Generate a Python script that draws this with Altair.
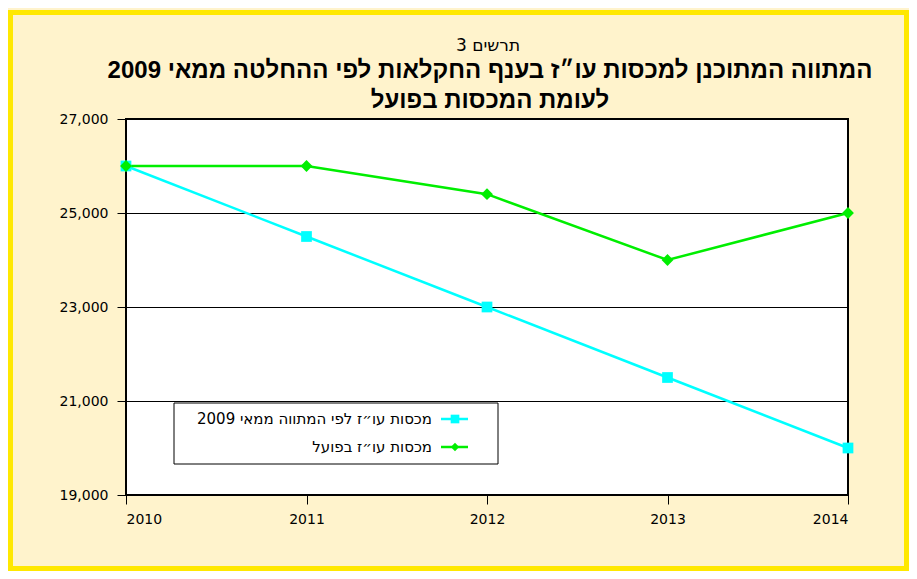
import altair as alt
import pandas as pd

# ---- data ----
years = [2010, 2011, 2012, 2013, 2014]
planned = [26000, 24500, 23000, 21500, 20000]
actual = [26000, 26000, 25400, 24000, 25000]
series_names = ["מכסות עו״ז לפי המתווה ממאי 2009", "מכסות עו״ז בפועל"]
y_ticks = [19000, 21000, 23000, 25000, 27000]
chart_label = "תרשים 3"
title_lines = [
    "המתווה המתוכנן למכסות עו״ז בענף החקלאות לפי ההחלטה ממאי 2009",
    "לעומת המכסות בפועל",
]

RLE, PDF = "\u202b", "\u202c"


def rtl(s):
    return RLE + s + PDF


df = pd.DataFrame({
    "year": years + years,
    "value": planned + actual,
    "series": [series_names[0]] * len(years) + [series_names[1]] * len(years),
})

W, H = 722, 376
CYAN = "#00FFFF"
GREEN = "#00EE00"
CREAM = "#FFF3CC"
YELLOW = "#FFE800"
AXFONT = "DejaVu Sans"
TFONT = "Liberation Sans"

x = alt.X(
    "year:Q",
    scale=alt.Scale(domain=[2010, 2014], nice=False, zero=False),
    axis=alt.Axis(values=years, format="d", title=None, grid=False, tickSize=9,
                  tickColor="black", domain=False, labelPadding=8,
                  labelFont=AXFONT, labelFontSize=14, labelColor="black"),
)
y = alt.Y(
    "value:Q",
    scale=alt.Scale(domain=[19000, 27000], nice=False, zero=False),
    axis=alt.Axis(values=y_ticks, format=",d", title=None, grid=True,
                  gridColor="black", gridWidth=1, gridOpacity=1,
                  tickSize=9, tickColor="black", domain=False, labelPadding=9,
                  labelFont=AXFONT, labelFontSize=14, labelColor="black"),
)
color = alt.Color("series:N", scale=alt.Scale(domain=series_names, range=[CYAN, GREEN]), legend=None)
shape = alt.Shape("series:N", scale=alt.Scale(domain=series_names, range=["square", "diamond"]), legend=None)

one = alt.Data(values=[{"k": 0}])

frame = alt.Chart(one).mark_rect(filled=False, stroke=YELLOW, strokeWidth=5).encode(
    x=alt.value(-115.5), x2=alt.value(780.5), y=alt.value(-106.5), y2=alt.value(449.5)
)

lines = alt.Chart(df).mark_line(strokeWidth=2.5).encode(x=x, y=y, color=color)
points = alt.Chart(df).mark_point(filled=True, opacity=1).encode(
    x=x, y=y, color=color, shape=shape,
    size=alt.Size("series:N", scale=alt.Scale(domain=series_names, range=[115, 140]), legend=None),
)

# ---- titles (drawn as text so that they stay inside the fixed layout) ----
titles = [
    alt.Chart(alt.Data(values=[{"t": rtl(chart_label)}])).mark_text(
        align="center", baseline="middle", font=AXFONT, fontSize=17, color="black"
    ).encode(x=alt.value(362), y=alt.value(-73), text="t:N"),
]
for i, line in enumerate(title_lines):
    titles.append(
        alt.Chart(alt.Data(values=[{"t": rtl(line)}])).mark_text(
            align="center", baseline="middle", font=TFONT, fontSize=24,
            fontWeight="bold", color="black"
        ).encode(x=alt.value(364), y=alt.value(-48 + i * 30), text="t:N")
    )

# ---- manual right-to-left legend ----
leg_box = alt.Chart(one).mark_rect(fill="white", stroke="black", strokeWidth=1).encode(
    x=alt.value(48), x2=alt.value(372), y=alt.value(284), y2=alt.value(345)
)
leg_layers = [leg_box]
leg_colors = [CYAN, GREEN]
leg_shapes = ["square", "diamond"]
leg_sizes = [75, 70]
for i, name in enumerate(series_names):
    yy = 300 + i * 28
    d = alt.Data(values=[{"name": rtl(name)}])
    leg_layers.append(
        alt.Chart(d).mark_rule(color=leg_colors[i], strokeWidth=2.5).encode(
            x=alt.value(315), x2=alt.value(342), y=alt.value(yy)
        )
    )
    leg_layers.append(
        alt.Chart(d).mark_point(filled=True, opacity=1, color=leg_colors[i],
                                shape=leg_shapes[i], size=leg_sizes[i]).encode(
            x=alt.value(329), y=alt.value(yy)
        )
    )
    leg_layers.append(
        alt.Chart(d).mark_text(align="right", baseline="middle", font=AXFONT,
                               fontSize=15, color="black").encode(
            x=alt.value(306), y=alt.value(yy), text="name:N"
        )
    )

chart = alt.layer(frame, *titles, lines, points, *leg_layers).properties(
    width=W,
    height=H,
    padding={"left": 118, "top": 111, "right": 61, "bottom": 76},
    autosize=alt.AutoSizeParams(type="none"),
    background=CREAM,
).configure_view(fill="white", stroke="black", strokeWidth=2)

chart.save("out.html", embed_options={"renderer": "svg", "actions": False})
